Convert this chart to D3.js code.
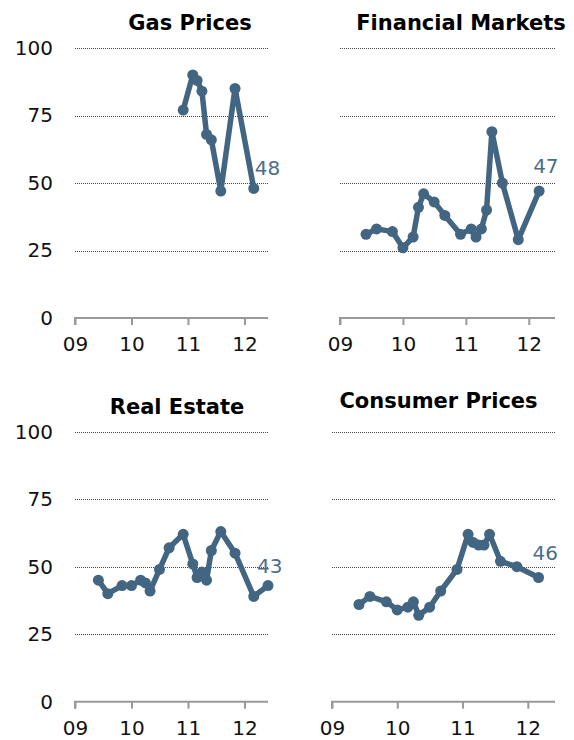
<!DOCTYPE html>
<html>
<head>
<meta charset="utf-8">
<script src="https://cdn.jsdelivr.net/npm/d3@7"></script>
<style>
  body { margin: 0; background: #fff; }
  svg { display: block; font-family: "DejaVu Sans", Verdana, sans-serif; }
</style>
</head>
<body>
<div id="chart"></div>
<script>
'use strict'
// survey dates, shared by all panels
let dates = ['2009-06','2009-08','2009-11','2010-01','2010-03','2010-04','2010-05','2010-07','2010-09','2010-12',
             '2011-02','2011-03','2011-04','2011-05','2011-06','2011-08','2011-11','2012-03','2012-06'];
let titles = ['Gas Prices', 'Financial Markets', 'Real Estate', 'Consumer Prices'];
// null = not asked
let gasPrices      = [null,null,null,null,null,null,null,null,null,77, 90,88,84,68,66,47,85,48,null];
let financial      = [31,33,32,26,30,41,46,43,38,31, 33,30,33,40,69,50,29,47,null];
let realEstate     = [45,40,43,43,45,44,41,49,57,62, 51,46,48,45,56,63,55,39,43];
let consumerPrices = [36,39,37,34,35,37,32,35,41,49, 62,59,58,58,62,52,50,46,null];
let yTicks = [0, 25, 50, 75, 100];
let xTicks = ['2009-01','2010-01','2011-01','2012-01'];

let series = [gasPrices, financial, realEstate, consumerPrices];
let parseMonth = d3.timeParse('%Y-%m');
let fmtYear = d3.timeFormat('%y');

// panel layout: plot box, title position, last-label offset
let panels = [
  {left: 75,  right: 268, top: 48,    bottom: 318,   yLabels: true,  tx: 190,   ty: 30,  lx: 1,   ly: -13},
  {left: 340, right: 555, top: 48,    bottom: 318,   yLabels: false, tx: 461,   ty: 30,  lx: -6,  ly: -18},
  {left: 75,  right: 268, top: 431.7, bottom: 701.7, yLabels: true,  tx: 177,   ty: 414, lx: -11, ly: -13},
  {left: 332, right: 555, top: 431.7, bottom: 701.7, yLabels: false, tx: 438.5, ty: 408, lx: -6,  ly: -18}
];

let lineColor = '#426682';
let svg = d3.select('#chart').append('svg')
  .attr('width', 574).attr('height', 740);

panels.forEach(function(p, i) {
  let x = d3.scaleTime()
    .domain([parseMonth('2009-01'), parseMonth('2012-06')])
    .range([p.left, p.right]);
  let y = d3.scaleLinear().domain([0, 100]).range([p.bottom, p.top]);
  let g = svg.append('g');

  g.append('text')
    .attr('x', p.tx).attr('y', p.ty)
    .attr('text-anchor', 'middle')
    .attr('font-size', '21px').attr('font-weight', 'bold')
    .attr('fill', '#000')
    .text(titles[i]);

  // dotted grid
  g.selectAll('.grid')
    .data(yTicks.filter(function(t) { return t > 0; }))
    .enter().append('line')
    .attr('x1', p.left).attr('x2', p.right)
    .attr('y1', function(d) { return Math.round(y(d)) + 0.5; })
    .attr('y2', function(d) { return Math.round(y(d)) + 0.5; })
    .attr('stroke', '#444').attr('stroke-width', 1)
    .attr('stroke-dasharray', '1,1');

  if (p.yLabels) {
    let yAxis = d3.axisLeft(y).tickValues(yTicks).tickSize(0).tickPadding(0);
    let ya = g.append('g')
      .attr('transform', 'translate(' + (p.left - 22) + ',0)')
      .call(yAxis);
    ya.select('.domain').remove();
    ya.selectAll('text').attr('font-size', '20px').attr('fill', '#111')
      .attr('font-family', '"DejaVu Sans", Verdana, sans-serif');
  }

  let xAxis = d3.axisBottom(x)
    .tickValues(xTicks.map(parseMonth))
    .tickFormat(fmtYear)
    .tickSizeInner(7).tickSizeOuter(7).tickPadding(12);
  let xa = g.append('g')
    .attr('transform', 'translate(0,' + p.bottom + ')')
    .call(xAxis);
  xa.select('.domain').attr('stroke', '#999').attr('stroke-width', 2)
    .attr('d', 'M' + p.left + ',7V0H' + p.right);
  xa.selectAll('.tick line').attr('stroke', '#999').attr('stroke-width', 2);
  xa.selectAll('text').attr('font-size', '20px').attr('fill', '#111')
    .attr('font-family', '"DejaVu Sans", Verdana, sans-serif');

  let pts = dates.map(function(d, j) { return {date: parseMonth(d), v: series[i][j]}; })
    .filter(function(d) { return d.v !== null; });

  let line = d3.line()
    .x(function(d) { return x(d.date); })
    .y(function(d) { return y(d.v); });

  g.append('path')
    .datum(pts)
    .attr('d', line)
    .attr('fill', 'none')
    .attr('stroke', lineColor)
    .attr('stroke-width', 5.5)
    .attr('stroke-linejoin', 'round');

  g.selectAll('.dot')
    .data(pts)
    .enter().append('circle')
    .attr('cx', function(d) { return x(d.date); })
    .attr('cy', function(d) { return y(d.v); })
    .attr('r', 5.5)
    .attr('fill', lineColor);

  let last = pts[pts.length - 1];
  g.append('text')
    .attr('x', x(last.date) + p.lx)
    .attr('y', y(last.v) + p.ly)
    .attr('font-size', '20px')
    .attr('fill', '#4d6e8a')
    .text(last.v);
});
</script>
</body>
</html>
